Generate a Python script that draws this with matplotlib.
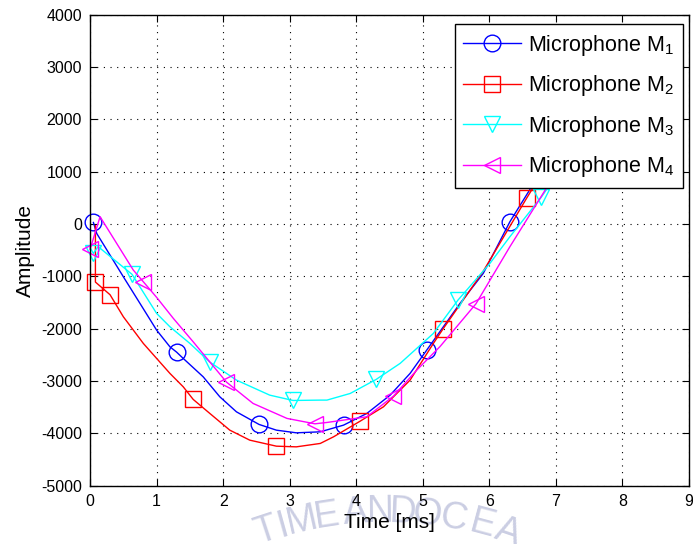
import numpy as np
import matplotlib.pyplot as plt

plt.rcParams['font.family'] = ['Liberation Sans', 'DejaVu Sans']
plt.rcParams['mathtext.fontset'] = 'custom'
plt.rcParams['mathtext.rm'] = 'Liberation Sans'
plt.rcParams['mathtext.it'] = 'Liberation Sans:italic'
plt.rcParams['axes.unicode_minus'] = False

# ======================
# Data
# ======================
t1 = [0.05, 0.10, 0.50, 0.75, 1.00, 1.20, 1.30, 1.40, 1.70, 1.95, 2.20, 2.54, 2.80,
      3.10, 3.46, 3.81, 4.16, 4.51, 4.81, 5.06, 5.56, 5.91, 6.31, 6.59, 7.00]
a1 = [30, -180, -1007, -1516, -2026, -2345, -2446, -2567, -2918, -3300, -3587, -3828, -3937,
      -3988, -3969, -3841, -3618, -3268, -2853, -2408, -1516, -942, 44, 617, 1480]
m1 = [0, 6, 11, 15, 19, 22]

t2 = [0.08, 0.08, 0.30, 0.50, 0.80, 1.20, 1.40, 1.55, 1.80, 2.10, 2.40, 2.80, 3.10,
      3.46, 3.66, 4.06, 4.41, 4.81, 5.16, 5.30, 5.91, 6.56, 7.00]
a2 = [-30, -1108, -1350, -1771, -2280, -2853, -3109, -3350, -3618, -3937, -4128, -4243, -4256,
      -4191, -4064, -3765, -3491, -2981, -2280, -2013, -900, 491, 1400]
m2 = [1, 2, 7, 11, 15, 19, 21]

t3 = [0.00, 0.05, 0.12, 0.63, 1.00, 1.20, 1.50, 1.80, 2.20, 2.70, 3.05, 3.46, 3.56,
      3.91, 4.30, 4.66, 5.16, 5.53, 6.01, 6.31, 6.78, 7.10]
a3 = [-450, -560, -430, -960, -1707, -1962, -2280, -2637, -2981, -3268, -3370, -3363, -3363,
      -3236, -2968, -2662, -2089, -1452, -751, -242, 510, 1100]
m3 = [1, 3, 7, 10, 14, 17, 20]

t4 = [0.00, 0.15, 0.65, 0.80, 1.00, 1.25, 1.55, 2.05, 2.45, 2.96, 3.38, 3.56, 4.16,
      4.56, 4.91, 5.26, 5.80, 6.31, 6.81, 7.20]
a4 = [-480, 140, -880, -1102, -1400, -1800, -2250, -3019, -3427, -3713, -3816, -3790, -3682,
      -3287, -2790, -2340, -1523, -433, 587, 1400]
m4 = [0, 3, 7, 10, 13, 16]

labels = ['Microphone M$_1$', 'Microphone M$_2$', 'Microphone M$_3$', 'Microphone M$_4$']

# ======================
# Plot
# ======================
fig = plt.figure(figsize=(6.93, 5.44), dpi=100)
ax = fig.add_axes([0.130, 0.107, 0.864, 0.866])

ms = 12
ax.plot(t1, a1, color='#0000ff', lw=1, marker='o', ms=ms, mfc='none', mew=1, markevery=m1, label=labels[0], clip_on=False)
ax.plot(t2, a2, color='#ff0000', lw=1, marker='s', ms=ms - 1, mfc='none', mew=1, markevery=m2, label=labels[1], clip_on=False)
ax.plot(t3, a3, color='#00ffff', lw=1, marker='v', ms=ms, mfc='none', mew=1, markevery=m3, label=labels[2], clip_on=False)
ax.plot(t4, a4, color='#ff00ff', lw=1, marker='<', ms=ms, mfc='none', mew=1, markevery=m4, label=labels[3], clip_on=False)

ax.set_xlim(0, 9)
ax.set_ylim(-5000, 4000)
ax.set_xticks(range(0, 10))
ax.set_yticks(range(-5000, 4001, 1000))
ax.grid(True, color='k', linestyle=(0, (1, 5)), linewidth=0.8)
ax.tick_params(direction='in', top=True, right=True, length=5, width=0.8, labelsize=11.5, pad=6)
for s in ax.spines.values():
    s.set_linewidth(1)

ax.set_xlabel('Time [ms]', fontsize=15, labelpad=3)
ax.set_ylabel('Amplitude', fontsize=15, labelpad=4)

leg = ax.legend(loc='upper right', bbox_to_anchor=(0.990, 0.980), borderaxespad=0,
                fontsize=15.5, fancybox=False, framealpha=1, edgecolor='k',
                handlelength=2.7, handletextpad=0.3, labelspacing=0.72, borderpad=0.4)
leg.get_frame().set_linewidth(1)

# faint watermark along an arc at the bottom
wm = ['T', 'I', 'M', 'E', 'A', 'N', 'D', 'O', 'C', 'E', 'A']
wx = [266, 283, 302, 327, 356, 380, 403, 427, 453, 483, 508]
cx, R = 385, 380
for ch, x in zip(wm, wx):
    th = np.arcsin((x - cx) / R)
    y = 495 + 17 + R * (1 - np.cos(th))
    fig.text(x / 693, 1 - y / 544, ch, fontsize=27, color='#cbcee3',
             ha='center', va='center', rotation=-np.degrees(th), rotation_mode='anchor', zorder=-1)

plt.savefig('out.png', dpi=100)
